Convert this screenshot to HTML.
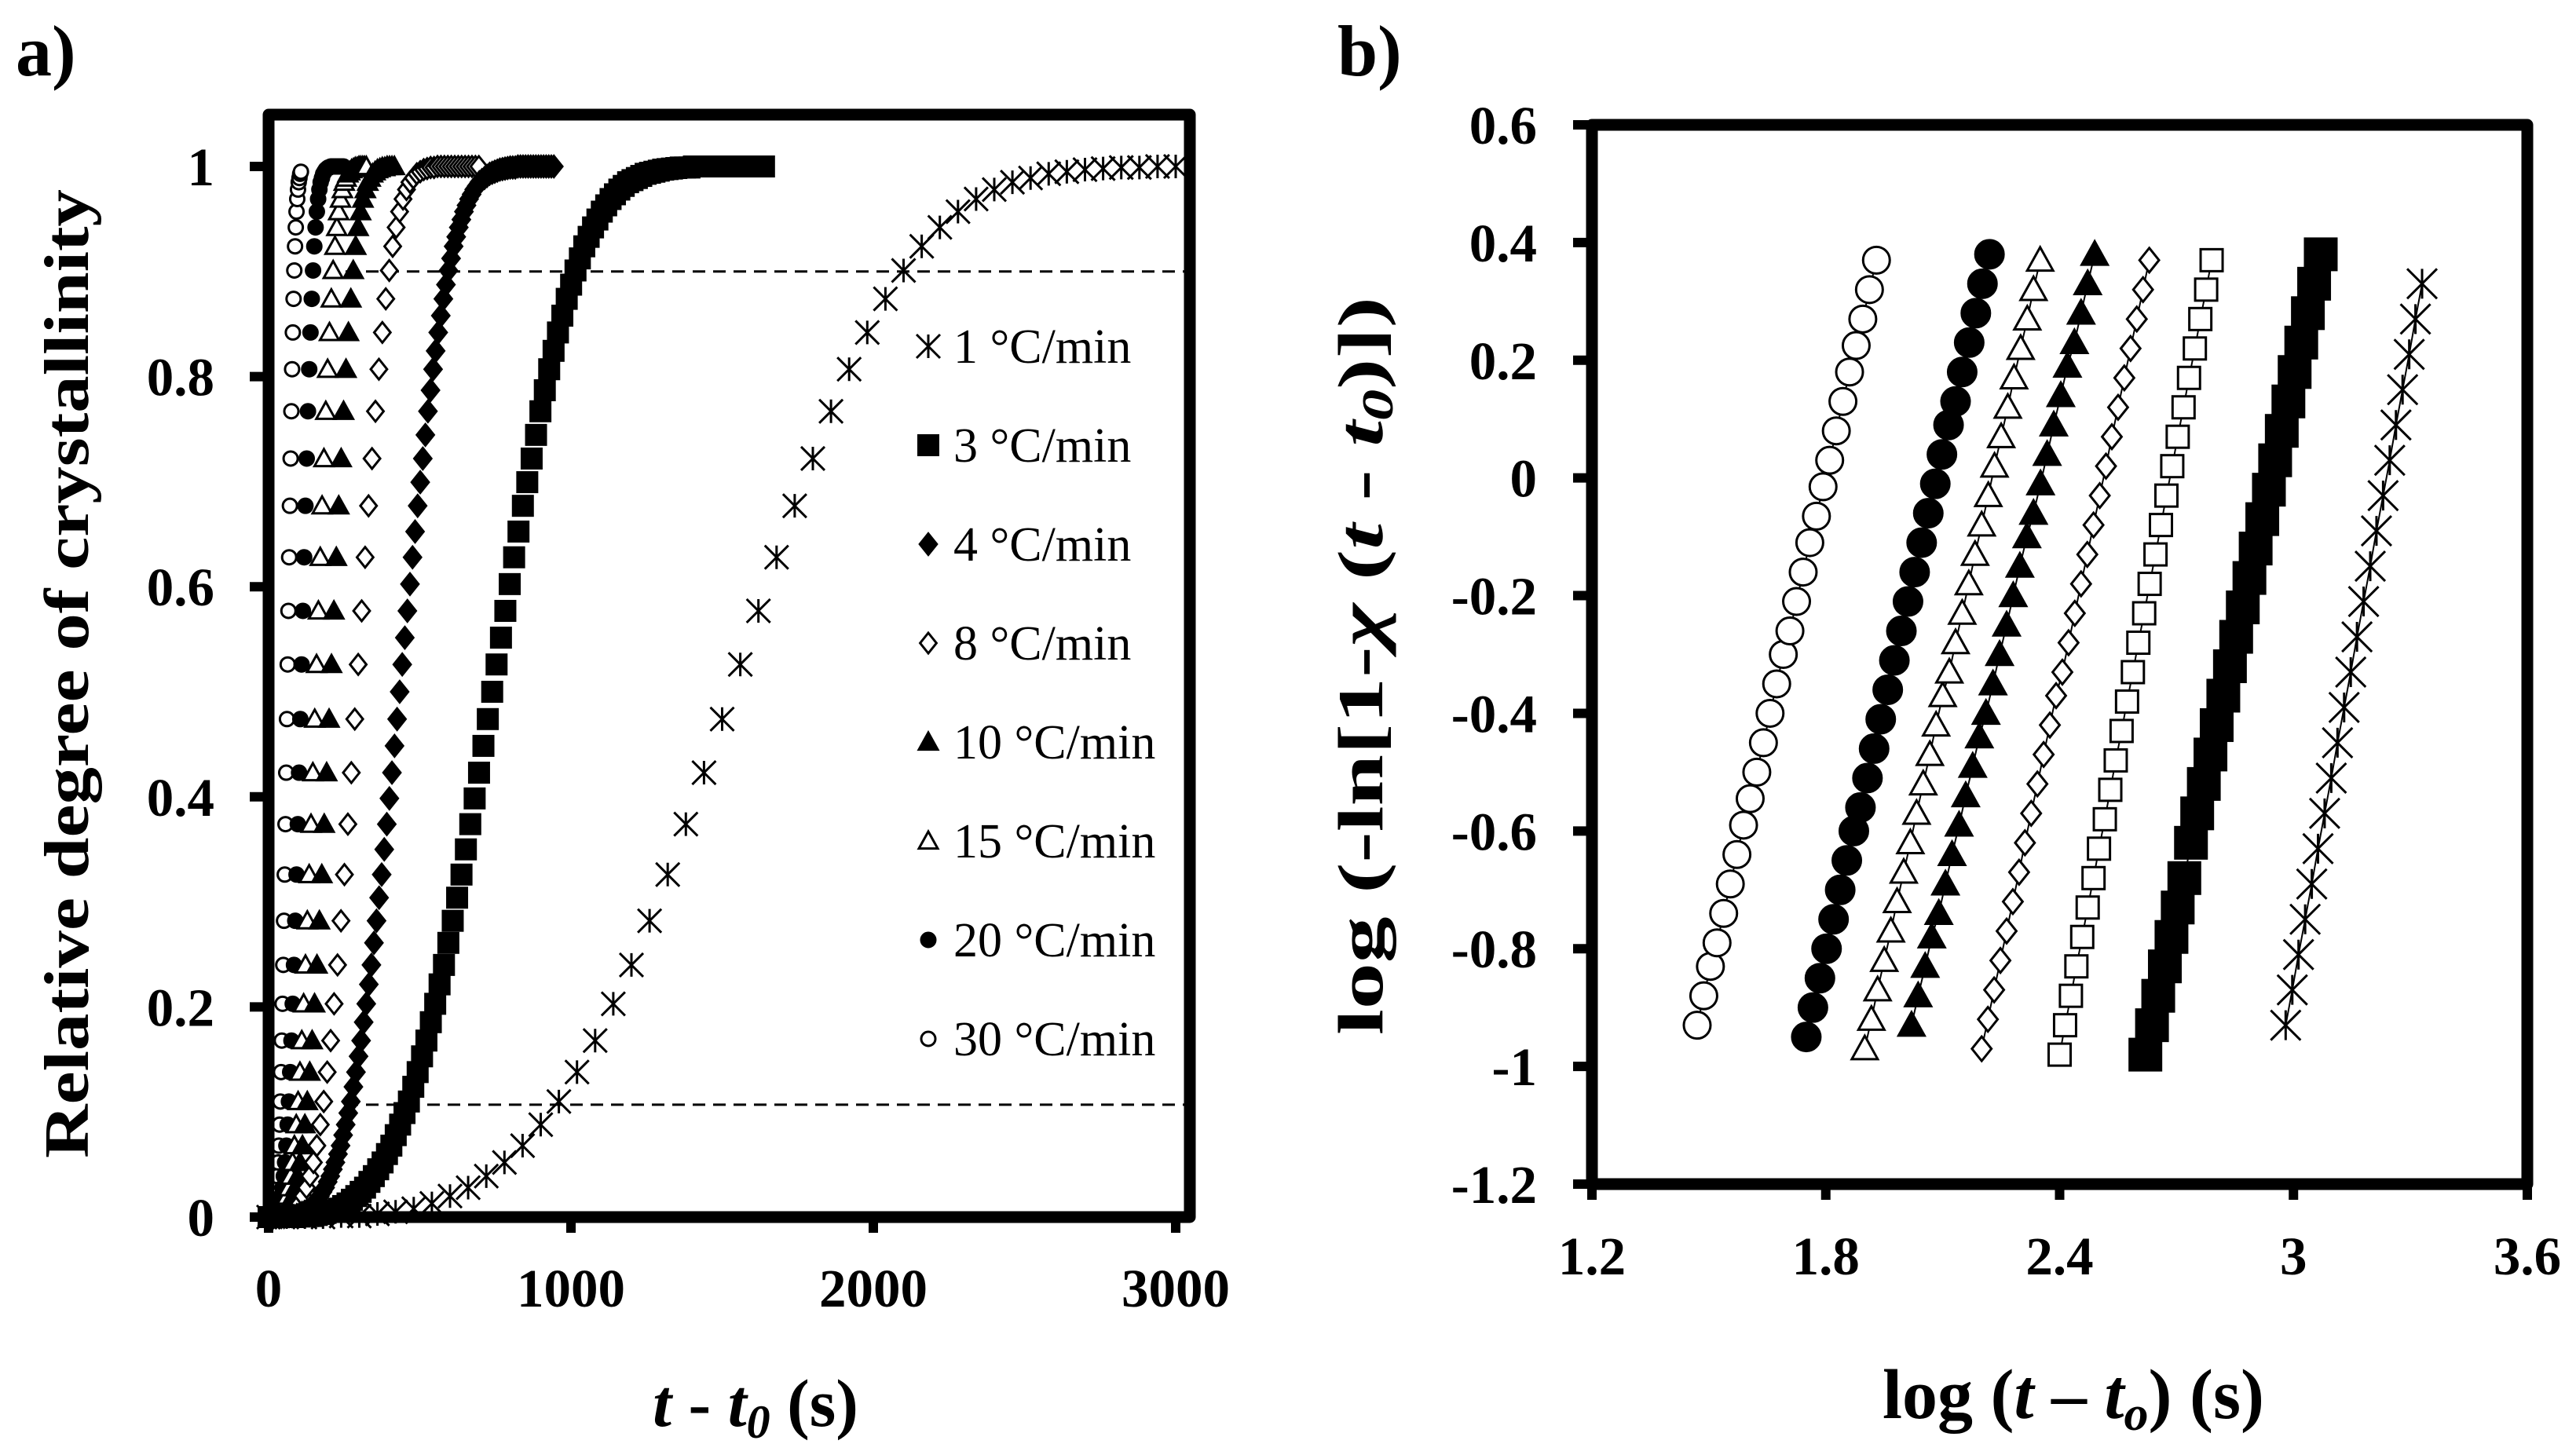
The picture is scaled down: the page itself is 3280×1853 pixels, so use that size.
<!DOCTYPE html>
<html><head><meta charset="utf-8"><title>Crystallinity charts</title>
<style>html,body{margin:0;padding:0;background:#fff}svg{display:block}text{font-family:"Liberation Serif",serif;fill:#000}</style>
</head><body>
<svg id="fig" xmlns="http://www.w3.org/2000/svg" width="3280" height="1853" viewBox="0 0 3280 1853">
<text x="20" y="96" font-size="92" font-weight="bold">a)</text>
<text x="1703" y="96" font-size="92" font-weight="bold">b)</text>
<text x="962" y="1816" font-size="86" font-weight="bold" text-anchor="middle"><tspan font-style="italic">t</tspan> - <tspan font-style="italic">t</tspan><tspan font-style="italic" font-size="60" dy="15">0</tspan><tspan dy="-15"> (s)</tspan></text>
<text transform="translate(112,858) rotate(-90)" x="0" y="0" font-size="80" font-weight="bold" text-anchor="middle" textLength="1234" lengthAdjust="spacingAndGlyphs">Relative degree of crystallinity</text>
<text x="2640" y="1806" font-size="90" font-weight="bold" text-anchor="middle">log (<tspan font-style="italic">t</tspan> – <tspan font-style="italic">t</tspan><tspan font-style="italic" font-size="62" dy="15">o</tspan><tspan dy="-15">) (s)</tspan></text>
<text transform="translate(1760,848) rotate(-90)" x="0" y="0" font-size="82" font-weight="bold" text-anchor="middle" textLength="940" lengthAdjust="spacingAndGlyphs">log (-ln[1-<tspan font-style="italic">χ</tspan> (<tspan font-style="italic">t</tspan> - <tspan font-style="italic">t</tspan><tspan font-style="italic" font-size="56" dy="13">0</tspan><tspan dy="-13">)])</tspan></text>
</svg>
<script>
// ---------- Panel a data ----------
const aSeriesNames = ["1 °C/min","3 °C/min","4 °C/min","8 °C/min","10 °C/min","15 °C/min","20 °C/min","30 °C/min"];
const aSampleInterval = [60, 14.5, 8.5, 11.4, 8, 6.1, 4.2, 2.43];
const aX1 = [0,0,0,0,.001,.001,.003,.005,.008,.013,.02,.028,.039,.052,.068,.088,.11,.138,.168,.203,.24,.282,.326,.374,.423,.474,.526,.577,.628,.677,.722,.767,.807,.842,.874,.901,.924,.942,.957,.969,.978,.985,.989,.993,.995,.997,.998,.999,.999,1,1];
const aX3 = [0,0,0,0,0,0,0,.0005,.001,.001,.001,.002,.003,.004,.005,.0065,.008,.0105,.013,.0165,.02,.024,.028,.0335,.039,.0455,.052,.06,.068,.078,.088,.099,.11,.124,.138,.153,.168,.1855,.203,.2215,.24,.261,.282,.304,.326,.35,.374,.3985,.423,.4485,.474,.5,.526,.5515,.577,.6025,.628,.6525,.677,.6995,.722,.7445,.767,.787,.807,.8245,.842,.858,.874,.8875,.901,.9125,.924,.933,.942,.9495,.957,.963,.969,.9735,.978,.9815,.985,.987,.989,.991,.993,.994,.995,.996,.997,.9975,.998,.9985,.999,.999,.999,1,1,1,1,1,1,1,1,1,1,1,1,1,1,1,1,1];
const aX4 = [0,0,0,0,0,0,0,.0005,.001,.001,.001,.002,.003,.004,.005,.0065,.008,.0105,.013,.0165,.02,.024,.028,.0335,.039,.0455,.052,.06,.068,.078,.088,.099,.11,.124,.138,.153,.168,.1855,.203,.2215,.24,.261,.282,.304,.326,.35,.374,.3985,.423,.4485,.474,.5,.526,.5515,.577,.6025,.628,.6525,.677,.6995,.722,.7445,.767,.787,.807,.8245,.842,.858,.874,.8875,.901,.9125,.924,.933,.942,.9495,.957,.963,.969,.9735,.978,.9815,.985,.987,.989,.991,.993,.994,.995,.996,.997,.9975,.998,.9985,.999,.999,.999,1,1,1,1,1,1,1,1,1,1,1,1,1,1,1];
const aX8 = [0,0,0,0,.001,.001,.003,.005,.008,.013,.02,.028,.039,.052,.068,.088,.11,.138,.168,.203,.24,.282,.326,.374,.423,.474,.526,.577,.628,.677,.722,.767,.807,.842,.874,.901,.924,.942,.957,.969,.978,.985,.989,.993,.995,.997,.998,.999,.999,1,1,1,1,1,1,1,1,1,1,1,1,1];
const aX10 = [0,0,0,0,.001,.001,.003,.005,.008,.013,.02,.028,.039,.052,.068,.088,.11,.138,.168,.203,.24,.282,.326,.374,.423,.474,.526,.577,.628,.677,.722,.767,.807,.842,.874,.901,.924,.942,.957,.969,.978,.985,.989,.993,.995,.997,.998,.999,.999,1,1,1,1];
const aX15 = [0,0,0,0,.001,.001,.003,.005,.008,.013,.02,.028,.039,.052,.068,.088,.11,.138,.168,.203,.24,.282,.326,.374,.423,.474,.526,.577,.628,.677,.722,.767,.807,.842,.874,.901,.924,.942,.957,.969,.978,.985,.989,.993,.995,.997,.998,.999,.999,1,1,1,1,1];
const aX20 = [0,0,0,0,.001,.001,.003,.005,.008,.013,.02,.028,.039,.052,.068,.088,.11,.138,.168,.203,.24,.282,.326,.374,.423,.474,.526,.577,.628,.677,.722,.767,.807,.842,.874,.901,.924,.942,.957,.969,.978,.985,.989,.993,.995,.997,.998,.999,.999,1,1,1,1,1,1,1,1,1,1,1];
const aX30 = [0,0,0,0,.001,.001,.003,.005,.008,.013,.02,.028,.039,.052,.068,.088,.11,.138,.168,.203,.24,.282,.326,.374,.423,.474,.526,.577,.628,.677,.722,.767,.807,.842,.874,.901,.924,.942,.957,.969,.978,.985,.989,.993,.995];
const aXTicks = [0, 1000, 2000, 3000];
const aXTickLabels = ["0","1000","2000","3000"];
const aYTicks = [0, 0.2, 0.4, 0.6, 0.8, 1];
const aYTickLabels = ["0","0.2","0.4","0.6","0.8","1"];
const aRefLines = [0.9, 0.107];

// ---------- Panel b data ----------
const bX30 = [1.47,1.487,1.504,1.521,1.538,1.555,1.572,1.589,1.606,1.623,1.64,1.657,1.674,1.691,1.708,1.725,1.742,1.759,1.776,1.793,1.81,1.827,1.844,1.861,1.878,1.895,1.912,1.93];
const bY30 = [-0.93,-0.88,-0.83,-0.79,-0.74,-0.69,-0.64,-0.59,-0.545,-0.50,-0.45,-0.40,-0.35,-0.30,-0.26,-0.21,-0.16,-0.11,-0.065,-0.015,0.03,0.08,0.13,0.18,0.225,0.27,0.32,0.37];
const bX20 = [1.75,1.767,1.785,1.802,1.82,1.837,1.854,1.872,1.889,1.907,1.924,1.941,1.959,1.976,1.994,2.011,2.028,2.046,2.063,2.081,2.098,2.115,2.133,2.15,2.168,2.185,2.202,2.22];
const bY20 = [-0.95,-0.90,-0.85,-0.80,-0.75,-0.70,-0.65,-0.60,-0.56,-0.51,-0.46,-0.41,-0.36,-0.31,-0.26,-0.21,-0.16,-0.11,-0.06,-0.01,0.04,0.09,0.13,0.18,0.23,0.28,0.33,0.38];
const bX15 = [1.9,1.917,1.933,1.95,1.967,1.983,2.0,2.017,2.033,2.05,2.067,2.083,2.1,2.117,2.133,2.15,2.167,2.183,2.2,2.217,2.233,2.25,2.267,2.283,2.3,2.317,2.333,2.35];
const bY15 = [-0.97,-0.92,-0.87,-0.82,-0.77,-0.72,-0.67,-0.62,-0.57,-0.52,-0.47,-0.42,-0.37,-0.33,-0.28,-0.23,-0.18,-0.13,-0.08,-0.03,0.02,0.07,0.12,0.17,0.22,0.27,0.32,0.37];
const bX10 = [2.02,2.037,2.055,2.072,2.09,2.107,2.124,2.142,2.159,2.177,2.194,2.211,2.229,2.246,2.264,2.281,2.298,2.316,2.333,2.351,2.368,2.385,2.403,2.42,2.438,2.455,2.472,2.49];
const bY10 = [-0.93,-0.88,-0.83,-0.78,-0.74,-0.69,-0.64,-0.59,-0.54,-0.49,-0.44,-0.40,-0.35,-0.30,-0.25,-0.20,-0.15,-0.10,-0.06,-0.01,0.04,0.09,0.14,0.19,0.23,0.28,0.33,0.38];
const bX8 = [2.2,2.216,2.232,2.248,2.264,2.28,2.296,2.311,2.327,2.343,2.359,2.375,2.391,2.407,2.423,2.439,2.455,2.471,2.487,2.503,2.519,2.534,2.55,2.566,2.582,2.598,2.614,2.63];
const bY8 = [-0.97,-0.92,-0.87,-0.82,-0.77,-0.72,-0.67,-0.62,-0.57,-0.52,-0.47,-0.42,-0.37,-0.33,-0.28,-0.23,-0.18,-0.13,-0.08,-0.03,0.02,0.07,0.12,0.17,0.22,0.27,0.32,0.37];
const bX4 = [2.4,2.414,2.429,2.443,2.458,2.472,2.487,2.501,2.516,2.53,2.544,2.559,2.573,2.588,2.602,2.617,2.631,2.646,2.66,2.674,2.689,2.703,2.718,2.732,2.747,2.761,2.776,2.79];
const bY4 = [-0.98,-0.93,-0.88,-0.83,-0.78,-0.73,-0.68,-0.63,-0.58,-0.53,-0.48,-0.43,-0.38,-0.33,-0.28,-0.23,-0.18,-0.13,-0.08,-0.03,0.02,0.07,0.12,0.17,0.22,0.27,0.32,0.37];
const bX3 = [2.62,2.637,2.653,2.67,2.687,2.703,2.72,2.737,2.753,2.77,2.787,2.803,2.82,2.837,2.853,2.87,2.887,2.903,2.92,2.937,2.953,2.97,2.987,3.003,3.02,3.037,3.053,3.07];
const bY3 = [-0.98,-0.93,-0.88,-0.83,-0.78,-0.73,-0.68,-0.62,-0.57,-0.52,-0.47,-0.42,-0.37,-0.32,-0.27,-0.22,-0.17,-0.12,-0.07,-0.02,0.03,0.08,0.13,0.18,0.23,0.28,0.33,0.38];
const bX1 = [2.98,2.997,3.013,3.03,3.047,3.063,3.08,3.097,3.113,3.13,3.147,3.163,3.18,3.197,3.213,3.23,3.247,3.263,3.28,3.297,3.313,3.33];
const bY1 = [-0.93,-0.87,-0.81,-0.75,-0.69,-0.63,-0.57,-0.51,-0.45,-0.39,-0.33,-0.27,-0.21,-0.15,-0.09,-0.03,0.03,0.09,0.15,0.21,0.27,0.33];
const bXTicks = [1.2, 1.8, 2.4, 3.0, 3.6];
const bXTickLabels = ["1.2","1.8","2.4","3","3.6"];
const bYTicks = [-1.2,-1.0,-0.8,-0.6,-0.4,-0.2,0,0.2,0.4,0.6];
const bYTickLabels = ["-1.2","-1","-0.8","-0.6","-0.4","-0.2","0","0.2","0.4","0.6"];

// ---------- axis functions ----------
const aX = v => 342 + v * (1155 / 3000);
const aY = v => 1550 - v * 1338;
const bX = v => 2027 + (v - 1.2) / 2.4 * (3218 - 2027);
const bY = v => 1508 - (v + 1.2) / 1.8 * (1508 - 159);

const NS = "http://www.w3.org/2000/svg";
const svg = document.getElementById("fig");
function el(tag, attrs, parent) {
  const e = document.createElementNS(NS, tag);
  for (const k in attrs) e.setAttribute(k, attrs[k]);
  (parent || svg).appendChild(e);
  return e;
}

function marker(g, type, x, y, s) {
  const h = s / 2;
  let m;
  if (type === "star") {
    m = el("path", {d:`M${x-h},${y-h}L${x+h},${y+h}M${x-h},${y+h}L${x+h},${y-h}M${x},${y-h}L${x},${y+h}`, stroke:"#000", "stroke-width":3, fill:"none"}, g);
  } else if (type === "sqF" || type === "sqO") {
    m = el("rect", {x:x-h, y:y-h, width:s, height:s, fill:type==="sqF"?"#000":"#fff", stroke:"#000", "stroke-width":3}, g);
  } else if (type === "diaF" || type === "diaO") {
    m = el("path", {d:`M${x},${y-h}L${x+h*0.8},${y}L${x},${y+h}L${x-h*0.8},${y}Z`, fill:type==="diaF"?"#000":"#fff", stroke:"#000", "stroke-width":3}, g);
  } else if (type === "triF" || type === "triO") {
    m = el("path", {d:`M${x},${y-h}L${x+h},${y+h*0.8}L${x-h},${y+h*0.8}Z`, fill:type==="triF"?"#000":"#fff", stroke:"#000", "stroke-width":3}, g);
  } else {
    m = el("circle", {cx:x, cy:y, r:h, fill:type==="cirF"?"#000":"#fff", stroke:"#000", "stroke-width":3}, g);
  }
  
  
}

// ---------- Panel a ----------
const gA = el("g", {});



aRefLines.forEach(v => {
  const l = el("line", {x1:440, x2:1508, y1:aY(v), y2:aY(v), stroke:"#000", "stroke-width":3, "stroke-dasharray":"16 10"}, gA);
  
  
});

const aData = [aX1, aX3, aX4, aX8, aX10, aX15, aX20, aX30];
const aTypes = ["star","sqF","diaF","diaO","triF","triO","cirF","cirO"];
const aSizes = [30, 25, 27, 26, 24, 24, 18, 18];
const aKeys = ["1","3","4","8","10","15","20","30"];
for (let s = aData.length - 1; s >= 0; s--) {
  const g = el("g", {}, gA);
  
  
  aData[s].forEach((v, i) => marker(g, aTypes[s], aX(i * aSampleInterval[s]), aY(v), aSizes[s]));
}

const frameA = el("rect", {x:342, y:146, width:1173, height:1404, fill:"none", stroke:"#000", "stroke-width":15, "stroke-linejoin":"round"}, gA);



aYTicks.forEach((v, i) => {
  const t = el("line", {x1:318, x2:342, y1:aY(v), y2:aY(v), stroke:"#000", "stroke-width":12}, gA);
  
  
  const lb = el("text", {x:273, y:aY(v) + 24, "font-size":69, "font-weight":"bold", "text-anchor":"end"}, gA);
  lb.textContent = aYTickLabels[i];
  
  
});
aXTicks.forEach((v, i) => {
  const t = el("line", {x1:aX(v), x2:aX(v), y1:1550, y2:1570, stroke:"#000", "stroke-width":12}, gA);
  
  
  const lb = el("text", {x:aX(v), y:1664, "font-size":69, "font-weight":"bold", "text-anchor":"middle"}, gA);
  lb.textContent = aXTickLabels[i];
  
  
});

const legend = el("g", {}, gA);


const legTypes = ["star","sqF","diaF","diaO","triF","triO","cirF","cirO"];
const legSizes = [30, 25, 27, 26, 24, 24, 18, 18];
aSeriesNames.forEach((name, i) => {
  const y = 441 + i * 126;
  const g = el("g", {}, legend);
  
  
  marker(g, legTypes[i], 1182, y, legSizes[i]);
  const t = el("text", {x:1214, y:y + 21, "font-size":62}, g);
  t.textContent = name;
  
  
});

// ---------- Panel b ----------
const gB = el("g", {});


const bXs = [bX30, bX20, bX15, bX10, bX8, bX4, bX3, bX1];
const bYs = [bY30, bY20, bY15, bY10, bY8, bY4, bY3, bY1];
const bTypes = ["cirO","cirF","triO","triF","diaO","sqO","sqF","star"];
const bSizes = [34, 36, 33, 33, 31, 28, 40, 38];
const bKeys = ["30","20","15","10","8","4","3","1"];
bXs.forEach((xs, s) => {
  const g = el("g", {}, gB);
  
  
  const pts = xs.map((x, i) => bX(x) + "," + bY(bYs[s][i])).join(" ");
  const pl = el("polyline", {points:pts, fill:"none", stroke:"#000", "stroke-width":2}, g);
  
  
  xs.forEach((x, i) => marker(g, bTypes[s], bX(x), bY(bYs[s][i]), bSizes[s]));
});

const frameB = el("rect", {x:2027, y:159, width:1191, height:1349, fill:"none", stroke:"#000", "stroke-width":15, "stroke-linejoin":"round"}, gB);


bYTicks.forEach((v, i) => {
  const t = el("line", {x1:2003, x2:2027, y1:bY(v), y2:bY(v), stroke:"#000", "stroke-width":12}, gB);
  
  
  const lb = el("text", {x:1957, y:bY(v) + 24, "font-size":69, "font-weight":"bold", "text-anchor":"end"}, gB);
  lb.textContent = bYTickLabels[i];
  
  
});
bXTicks.forEach((v, i) => {
  const t = el("line", {x1:bX(v), x2:bX(v), y1:1508, y2:1528, stroke:"#000", "stroke-width":12}, gB);
  
  
  const lb = el("text", {x:bX(v), y:1623, "font-size":69, "font-weight":"bold", "text-anchor":"middle"}, gB);
  lb.textContent = bXTickLabels[i];
  
  
});
</script>
</body></html>
